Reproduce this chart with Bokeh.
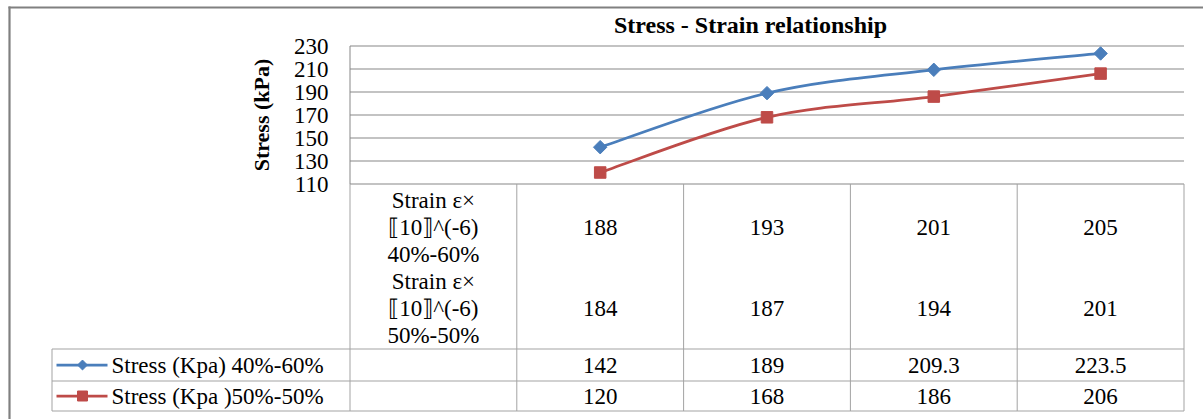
import numpy as np
from bokeh.plotting import figure
from bokeh.models import Range1d
from bokeh.core.properties import value
from bokeh.embed import file_html
from bokeh.resources import INLINE

# ---------------- data ----------------
title_text = "Stress - Strain relationship"
y_label = "Stress (kPa)"
y_ticks = [110, 130, 150, 170, 190, 210, 230]
header_labels = ["Strain ε×\n⟦10⟧^(-6)\n40%-60%", "Strain ε×\n⟦10⟧^(-6)\n50%-50%"]
strain_40_60 = [188, 193, 201, 205]
strain_50_50 = [184, 187, 194, 201]
series_names = ["Stress (Kpa) 40%-60%", "Stress (Kpa )50%-50%"]
stress_40_60 = [142, 189, 209.3, 223.5]
stress_50_50 = [120, 168, 186, 206]

BLUE = "#4A7EBB"
RED = "#BE4B48"
GRID = "#878787"
TABLE = "#a3a3a3"
FONT = value("Liberation Serif")
FS = "23px"

W, H = 1203, 419
N_CAT = len(stress_40_60) + 1  # first column holds the row headers


# page-pixel helpers for layout (decoration only)
def X(px):
    return (px - 349.5) * N_CAT / 834.0


def Y(py):
    return y_ticks[0] + (183.5 - py) * (y_ticks[1] - y_ticks[0]) / 23.0


p = figure(width=W, height=H, output_backend="svg", toolbar_location=None,
           x_range=Range1d(X(0), X(W)), y_range=Range1d(Y(H), Y(0)),
           min_border=0)
p.axis.visible = False
p.grid.visible = False
p.outline_line_color = None
p.background_fill_color = "white"
p.border_fill_color = "white"

# outer border (top & left)
p.segment(x0=[X(8), X(9)], y0=[Y(7), Y(6)], x1=[X(W), X(9)], y1=[Y(7), Y(H)],
          line_color="#808080", line_width=2.2)

# gridlines
lo, hi = 0, N_CAT
p.segment(x0=[lo] * len(y_ticks), y0=y_ticks, x1=[hi] * len(y_ticks), y1=y_ticks,
          line_color=GRID, line_width=1)
# plot-area left edge
p.segment(x0=[0], y0=[y_ticks[-1]], x1=[0], y1=[y_ticks[0]], line_color=GRID, line_width=1)

# tick labels
p.text(x=[X(328)] * len(y_ticks), y=y_ticks, text=[str(t) for t in y_ticks],
       text_font=FONT, text_font_size=FS, text_align="right", text_baseline="middle",
       text_color="black")

# y label
p.text(x=[X(261)], y=[(y_ticks[0] + y_ticks[-1]) / 2], text=[y_label], angle=np.pi / 2,
       text_font=FONT, text_font_size="22px", text_font_style="bold",
       text_align="center", text_baseline="middle", text_color="black")

# title
p.text(x=[X(750)], y=[Y(24)], text=[title_text], text_font=FONT, text_font_size="24px",
       text_font_style="bold", text_align="center", text_baseline="middle", text_color="black")

# ---------------- table ----------------
row_a_mid, row_b_mid = Y(227), Y(308)
leg1_mid, leg2_mid = Y(364.5), Y(395.5)
t_top, t_l1, t_l2, t_bot = y_ticks[0], Y(348.5), Y(380.5), Y(410.5)

bounds = list(range(N_CAT + 1))
p.segment(x0=bounds, y0=[t_top] * len(bounds), x1=bounds, y1=[t_bot] * len(bounds),
          line_color=TABLE, line_width=1)
p.segment(x0=[X(51.5)] * 3, y0=[t_l1, t_l2, t_bot], x1=[hi] * 3, y1=[t_l1, t_l2, t_bot],
          line_color=TABLE, line_width=1)
p.segment(x0=[X(51.5)], y0=[t_l1], x1=[X(51.5)], y1=[t_bot], line_color=TABLE, line_width=1)

cx = list(np.arange(len(stress_40_60)) + 1.5)

# header cells
p.text(x=[0.5, 0.5], y=[row_a_mid, row_b_mid], text=header_labels, text_font=FONT,
       text_font_size=FS, text_align="center", text_baseline="middle",
       text_line_height=1.07, text_color="black")

fmt = lambda v: f"{v:g}"
for vals, ymid in [(strain_40_60, row_a_mid), (strain_50_50, row_b_mid),
                   (stress_40_60, leg1_mid), (stress_50_50, leg2_mid)]:
    p.text(x=cx, y=[ymid] * len(vals), text=[fmt(v) for v in vals], text_font=FONT,
           text_font_size=FS, text_align="center", text_baseline="middle",
           text_color="black")

# legend keys in table
for name, ymid, col, mk, sz, ang in [(series_names[0], leg1_mid, BLUE, "square", 7, np.pi / 4),
                                     (series_names[1], leg2_mid, RED, "square", 10, 0)]:
    p.segment(x0=[X(56)], y0=[ymid], x1=[X(107)], y1=[ymid], line_color=col, line_width=2.75)
    p.scatter(x=[X(82)], y=[ymid], marker=mk, size=sz, angle=ang, fill_color=col, line_color=col)
    p.text(x=[X(111)], y=[ymid], text=[name], text_font=FONT, text_font_size=FS,
           text_align="left", text_baseline="middle", text_color="black")


# ---------------- smoothed series ----------------
def smooth(xs, ys, t=1.0 / 6):
    P = np.column_stack([xs, ys]).astype(float)
    n = len(P)
    out = {k: [] for k in ["x0", "y0", "x1", "y1", "cx0", "cy0", "cx1", "cy1"]}
    for i in range(n - 1):
        p0 = P[i - 1] if i > 0 else P[i]
        p1, p2 = P[i], P[i + 1]
        p3 = P[i + 2] if i + 2 < n else P[i + 1]
        c1 = p1 + (p2 - p0) * t
        c2 = p2 - (p3 - p1) * t
        out["x0"].append(p1[0]); out["y0"].append(p1[1])
        out["x1"].append(p2[0]); out["y1"].append(p2[1])
        out["cx0"].append(c1[0]); out["cy0"].append(c1[1])
        out["cx1"].append(c2[0]); out["cy1"].append(c2[1])
    return out


for ys, col in [(stress_40_60, BLUE), (stress_50_50, RED)]:
    b = smooth(cx, ys)
    p.bezier(line_color=col, line_width=2.75, **b)

p.scatter(x=cx, y=stress_40_60, marker="square", angle=np.pi / 4, size=9.5,
          fill_color=BLUE, line_color=BLUE)
p.scatter(x=cx, y=stress_50_50, marker="square", size=11.5, fill_color=RED, line_color=RED)

open("out.html", "w").write(file_html(p, INLINE))
